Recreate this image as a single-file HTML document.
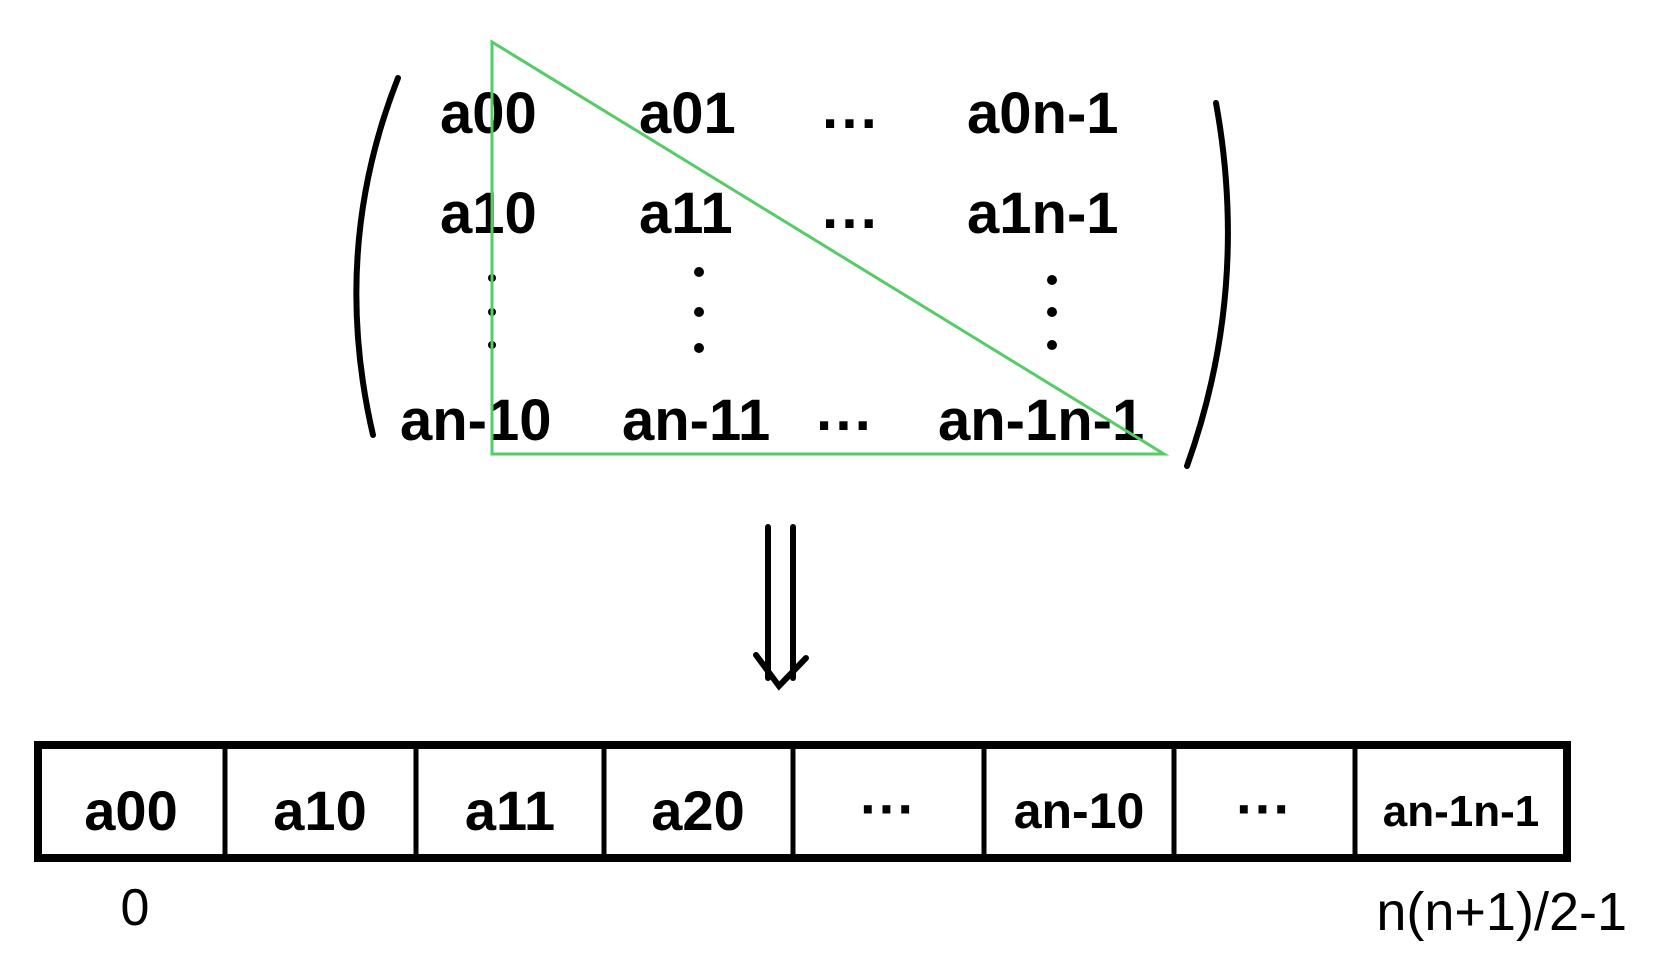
<!DOCTYPE html>
<html><head><meta charset="utf-8"><style>
html,body{margin:0;padding:0;background:#fff;}
svg{display:block;}
text{font-family:"Liberation Sans",sans-serif;fill:#000;}
</style></head><body>
<svg width="1653" height="966" viewBox="0 0 1653 966">
<g>
<path d="M398,78 Q330,250 373,435" fill="none" stroke="#000" stroke-width="6" stroke-linecap="round"/>
<path d="M1216,103 Q1250,290 1187,466" fill="none" stroke="#000" stroke-width="6" stroke-linecap="round"/>
<g font-size="58" font-weight="bold">
<text x="440" y="133">a00</text>
<text x="639" y="133">a01</text>
<text x="822" y="143">···</text>
<text x="967" y="133">a0n-1</text>
<text x="440" y="233">a10</text>
<text x="639" y="233">a11</text>
<text x="822" y="243">···</text>
<text x="967" y="233">a1n-1</text>
<text x="400" y="440">an-10</text>
<text x="622" y="440">an-11</text>
<text x="816" y="445">···</text>
<text x="938" y="440">an-1n-1</text>
</g>
<g fill="#000">
<circle cx="492" cy="278" r="4"/><circle cx="492" cy="312" r="4"/><circle cx="492" cy="345" r="4"/>
<circle cx="699" cy="272" r="5"/><circle cx="699" cy="312" r="5"/><circle cx="699" cy="348" r="5"/>
<circle cx="1052" cy="280" r="5"/><circle cx="1052" cy="312" r="5"/><circle cx="1052" cy="345" r="5"/>
</g>
<polygon points="492,42 492,454 1164,454" fill="none" stroke="#55cc66" stroke-width="3"/>
</g>
<g stroke="#000" stroke-width="6" fill="none" stroke-linecap="round">
<line x1="768" y1="527" x2="768" y2="678"/>
<line x1="793" y1="527" x2="793" y2="678"/>
<polyline points="756,655 779,686 806,658"/>
</g>
<g>
<rect x="38" y="745" width="1529" height="113" fill="none" stroke="#000" stroke-width="8"/>
<g stroke="#000" stroke-width="5">
<line x1="225" y1="745" x2="225" y2="858"/><line x1="416" y1="745" x2="416" y2="858"/>
<line x1="604" y1="745" x2="604" y2="858"/><line x1="793" y1="745" x2="793" y2="858"/>
<line x1="984" y1="745" x2="984" y2="858"/><line x1="1174" y1="745" x2="1174" y2="858"/>
<line x1="1355" y1="745" x2="1355" y2="858"/>
</g>
<g font-size="56" font-weight="bold" text-anchor="middle">
<text x="131" y="830">a00</text>
<text x="320" y="830">a10</text>
<text x="510" y="830">a11</text>
<text x="698" y="830">a20</text>
<text x="888" y="828">···</text>
<text x="1079" y="828" font-size="50">an-10</text>
<text x="1264" y="828">···</text>
<text x="1461" y="826" font-size="44">an-1n-1</text>
</g>
<text x="135" y="925" font-size="52" text-anchor="middle">0</text>
<text x="1627" y="930" font-size="54" text-anchor="end">n(n+1)/2-1</text>
</g>
</svg>
</body></html>
